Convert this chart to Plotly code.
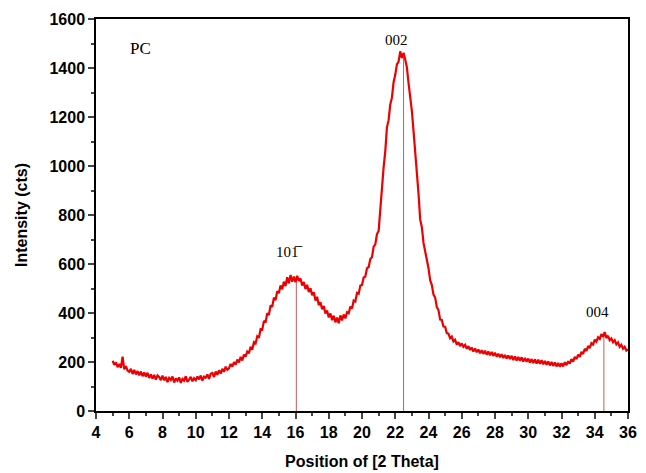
import plotly.graph_objects as go

# XRD pattern of PC at 0.1 degree steps (5.0 .. 36.0)
two_theta = [round(5 + i * 0.1, 1) for i in range(311)]
intensity = [
    205, 188, 198, 179, 192, 176, 222, 170, 183, 165,    # 5
    160, 172, 151, 168, 149, 163, 146, 161, 142, 157,    # 6
    141, 156, 135, 149, 132, 147, 128, 145, 139, 126,    # 7
    144, 125, 139, 118, 135, 127, 141, 116, 133, 124,    # 8
    137, 115, 131, 124, 142, 119, 128, 139, 121, 134,    # 9
    126, 141, 129, 145, 124, 140, 136, 149, 131, 152,    # 10
    155, 139, 161, 148, 166, 153, 172, 160, 181, 168,    # 11
    174, 192, 181, 200, 189, 210, 198, 221, 206, 230,    # 12
    222, 243, 236, 262, 250, 281, 276, 305, 299, 334,    # 13
    332, 368, 361, 399, 392, 431, 425, 463, 452, 489,    # 14
    481, 512, 497, 528, 510, 546, 521, 555, 528, 549,    # 15
    526, 552, 531, 541, 512, 527, 498, 515, 486, 501,    # 16
    472, 485, 451, 466, 432, 444, 415, 429, 398, 410,    # 17
    382, 398, 371, 389, 362, 381, 358, 390, 370, 394,    # 18
    378, 403, 399, 426, 418, 451, 447, 482, 479, 512,    # 19
    514, 545, 549, 583, 587, 620, 628, 671, 680, 722,    # 20
    735, 830, 896, 994, 1060, 1158, 1187, 1251, 1279, 1342,  # 21
    1372, 1415, 1426, 1468, 1441, 1462, 1435, 1402, 1338, 1290,  # 22
    1224, 1142, 1068, 962, 887, 781, 750, 686, 652, 603,  # 23
    583, 534, 514, 475, 463, 424, 412, 373, 372, 345,    # 24
    344, 318, 316, 297, 304, 284, 291, 271, 281, 265,    # 25
    276, 262, 270, 254, 265, 249, 259, 243, 255, 240,    # 26
    251, 236, 248, 233, 246, 230, 243, 227, 241, 225,    # 27
    238, 222, 234, 219, 232, 216, 229, 214, 227, 212,    # 28
    225, 208, 223, 206, 221, 205, 219, 202, 217, 201,    # 29
    214, 198, 212, 196, 211, 194, 209, 193, 207, 191,    # 30
    204, 189, 202, 186, 200, 184, 198, 182, 196, 181,    # 31
    195, 182, 199, 187, 203, 193, 212, 201, 221, 212,    # 32
    230, 221, 241, 233, 254, 245, 265, 257, 277, 271,    # 33
    291, 283, 301, 294, 314, 303, 322, 298, 307, 289,    # 34
    296, 281, 289, 272, 280, 262, 270, 254, 262, 247,    # 35
    252,                                                 # 36
]

peak_pos = [16.05, 22.5, 34.55]
peak_int = [540, 1450, 310]
peak_labels = ["101\u0305", "002", "004"]
label_int = [650, 1515, 405]

# drop lines
drop_x, drop_y = [], []
for p, h in zip(peak_pos, peak_int):
    drop_x += [p, p, None]
    drop_y += [0, h, None]

fig = go.Figure()
fig.add_trace(go.Scatter(x=drop_x, y=drop_y, mode="lines",
                         line=dict(color="#c85a5a", width=1), hoverinfo="skip"))
fig.add_trace(go.Scatter(x=two_theta, y=intensity, mode="lines",
                         line=dict(color="#ee0000", width=2.2)))

for p, lab, ly in zip(peak_pos, peak_labels, label_int):
    fig.add_annotation(x=p - 0.4, y=ly, text=lab, showarrow=False,
                       font=dict(family="Liberation Serif", size=15, color="black"))

fig.add_annotation(x=0.06, y=0.955, xref="paper", yref="paper", text="PC",
                   showarrow=False, xanchor="left",
                   font=dict(family="Liberation Serif", size=17, color="black"))

axis_font = dict(family="Liberation Sans", size=16, color="black", weight="bold")
fig.update_xaxes(range=[4, 36], dtick=2, tick0=4, ticks="outside", ticklen=6, tickwidth=1.5,
                 showline=True, linecolor="black", linewidth=1.5, mirror=True,
                 showgrid=False, zeroline=False, tickfont=axis_font,
                 minor=dict(dtick=1, ticks="outside", ticklen=3, tickwidth=1.5),
                 title=dict(text="Position of [2 Theta]", font=axis_font, standoff=16))
fig.update_yaxes(range=[0, 1600], dtick=200, ticks="outside", ticklen=6, tickwidth=1.5,
                 showline=True, linecolor="black", linewidth=1.5, mirror=True,
                 showgrid=False, zeroline=False, tickfont=axis_font,
                 minor=dict(dtick=100, ticks="outside", ticklen=3, tickwidth=1.5),
                 title=dict(text="Intensity (cts)", font=axis_font, standoff=18))

# page body adds an 8px offset, so the figure is 8px smaller than the window
fig.update_layout(width=638, height=465, showlegend=False,
                  plot_bgcolor="white", paper_bgcolor="white",
                  margin=dict(l=88, r=18, t=11, b=62, autoexpand=False))

fig.write_html("out.html")
